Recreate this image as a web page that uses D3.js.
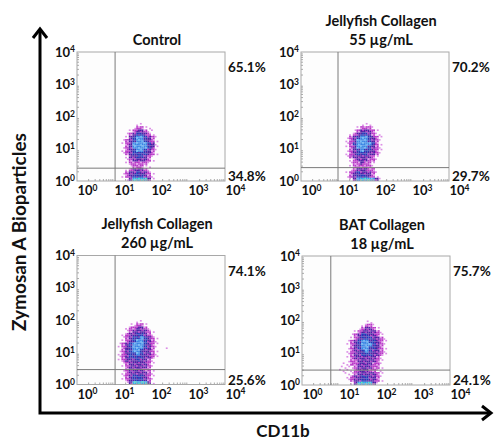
<!DOCTYPE html>
<html>
<meta charset="utf-8">
<title>Zymosan A Bioparticles vs CD11b</title>
<style>
  body { margin: 0; background: #fff; }
  svg text { font-family: Lato, "Open Sans", sans-serif; font-weight: bold; fill: #111; }
</style>
<body>
<div id="chart"></div>
<script src="https://cdn.jsdelivr.net/npm/d3@7"></script>
<script>
// panel titles, quadrant percentages and gate positions (data units)
var titles = [["Control"], ["Jellyfish Collagen", "55 µg/mL"], ["Jellyfish Collagen", "260 µg/mL"], ["BAT Collagen", "18 µg/mL"]];
var upperPct = ["65.1%", "70.2%", "74.1%", "75.7%"];
var lowerPct = ["34.8%", "29.7%", "25.6%", "24.1%"];
var gateX = [10.7, 10, 10.7, 6];
var gateY = [2.5, 2.6, 2.9, 2.9];
var tickValues = [1, 10, 100, 1000, 10000];

// density maps: 0.1 decade bins,
// columns start at log10 = 1.0, rows start at log10 = 1.9 (top) and go down to 0.0
var binStart = 1.0, binRowTop = 1.9, binStep = 0.1;
var densControl = [
  "000000000000000",
  "000000000000000",
  "000000110000000",
  "000001221100000",
  "000012332110000",
  "000123443210000",
  "000134554321000",
  "001234554321000",
  "001235555431000",
  "001235555431000",
  "001234554321000",
  "001234444321000",
  "000133443210000",
  "000123333210000",
  "000122222100000",
  "000012221100000",
  "000123332100000",
  "001233433210000",
  "001234443210000",
  "000136666310000"
];
var dens55 = [
  "000000000000000",
  "000000000000000",
  "000000111000000",
  "000001222100000",
  "000012333210000",
  "000123443211000",
  "001234554321000",
  "001235554321000",
  "001245555421000",
  "001235554321000",
  "001234544321000",
  "001234443321000",
  "001233333210000",
  "000123332210000",
  "000122322100000",
  "000122222100000",
  "000123332200000",
  "001234333210000",
  "001234443210000",
  "000135666531000"
];
var dens260 = [
  "000000110000000",
  "000011221000000",
  "000122332100000",
  "000123333210000",
  "001233443210000",
  "001234454321000",
  "001234554321000",
  "012345554321000",
  "012345554321001",
  "012345543321000",
  "012344543321000",
  "012344443321000",
  "012333433210000",
  "001233333210000",
  "001233333210000",
  "001233332210000",
  "001233333210000",
  "001234443210000",
  "001234443210000",
  "000136666310000"
];
var densBAT = [
  "000000011000000",
  "000000122100000",
  "000001233210000",
  "000012333321000",
  "000123443321000",
  "000123444332100",
  "001234554432100",
  "001234555432100",
  "001234554432100",
  "001233454332100",
  "001233444332100",
  "001233333321000",
  "001223333321000",
  "011223333221000",
  "111123333221000",
  "111123332211000",
  "011123333321000",
  "001233443321000",
  "001233443321000",
  "000136666310000"
];
var densities = [densControl, dens55, dens260, densBAT];

// main colour and speckle colour for each density level
var levelColors = [null, "#dc8ee6", "#b838c8", "#4f1ea6", "#2438b8", "#3a86e4", "#38a8e8"];
var speckColors = [null, null, "#e29be9", "#b030c4", "#5a22a8", "#66b4f4", "#40e0c0"];

var svg = d3.select("#chart").append("svg")
  .attr("width", 494).attr("height", 441);

var W = 148, H = 129;
var panelX = [77, 301, 77, 302];
var panelY = [52, 52, 255.5, 256];

var minorTicks = [];
for (var k = 0; k < 4; k++) for (var m = 2; m < 10; m++) minorTicks.push(m * Math.pow(10, k));

function supLabel(sel) {
  sel.text(null);
  sel.append("tspan").text("10");
  sel.append("tspan").attr("dy", "-0.5em").style("font-size", "8.5px")
    .text(function (d) { return Math.round(Math.log10(d)); });
}

densities.forEach(function (dens, i) {
  var g = svg.append("g").attr("transform", "translate(" + panelX[i] + "," + panelY[i] + ")");
  var x = d3.scaleLog().domain([1, 1e4]).range([0, W]);
  var y = d3.scaleLog().domain([1, 1e4]).range([H, 0]);

  g.append("rect").attr("width", W).attr("height", H).attr("fill", "#fdfdfd");

  // each bin split in 2x2 sub cells for a speckled look
  var cells = [];
  dens.forEach(function (row, r) {
    row.split("").forEach(function (ch, c) {
      var v = +ch;
      if (v == 0) return;
      for (var q = 0; q < 4; q++) {
        var odd = q == (r * 3 + c * 2 + i) % 4;
        if (v == 1 && !odd) continue;
        cells.push({ r: r, c: c, q: q, fill: (odd && v > 1) ? speckColors[v] : levelColors[v] });
      }
    });
  });

  g.selectAll("rect.cell").data(cells).join("rect")
    .attr("class", "cell")
    .each(function (d) {
      var x0 = x(Math.pow(10, binStart + d.c * binStep)),
          x1 = x(Math.pow(10, binStart + (d.c + 1) * binStep)),
          y0 = y(Math.pow(10, binRowTop - d.r * binStep + binStep)),
          y1 = y(Math.pow(10, binRowTop - d.r * binStep));
      var hw = (x1 - x0) / 2, hh = (y1 - y0) / 2;
      d3.select(this)
        .attr("x", x0 + (d.q % 2) * hw)
        .attr("y", y0 + Math.floor(d.q / 2) * hh)
        .attr("width", hw)
        .attr("height", hh)
        .attr("fill", d.fill);
    });

  // minor ticks
  var mb = g.append("g").attr("transform", "translate(0," + H + ")")
    .call(d3.axisBottom(x).tickValues(minorTicks).tickSize(-2).tickFormat(""));
  var ml = g.append("g")
    .call(d3.axisLeft(y).tickValues(minorTicks).tickSize(-2).tickFormat(""));
  [mb, ml].forEach(function (a) {
    a.select(".domain").remove();
    a.selectAll("line").attr("stroke", "#aaa");
  });

  g.append("rect").attr("width", W).attr("height", H)
    .attr("fill", "none").attr("stroke", "#a8a8a8");

  // gates
  g.append("line").attr("x1", x(gateX[i])).attr("x2", x(gateX[i]))
    .attr("y1", 0).attr("y2", H).attr("stroke", "#7a7a7a");
  g.append("line").attr("x1", 0).attr("x2", W)
    .attr("y1", y(gateY[i])).attr("y2", y(gateY[i])).attr("stroke", "#7a7a7a");

  // labelled axes
  var ax = g.append("g").attr("transform", "translate(0," + H + ")")
    .call(d3.axisBottom(x).tickValues(tickValues).tickSize(0).tickPadding(5));
  ax.select(".domain").remove();
  ax.selectAll("text").attr("text-anchor", "start").style("font-size", "13px").call(supLabel);

  var ay = g.append("g")
    .call(d3.axisLeft(y).tickValues(tickValues).tickSize(0).tickPadding(2));
  ay.select(".domain").remove();
  ay.selectAll("text").style("font-size", "13px").call(supLabel);

  // title
  var t = titles[i];
  t.forEach(function (line, j) {
    g.append("text")
      .attr("x", W / 2 + 6)
      .attr("y", -13 - (t.length - 1 - j) * 19)
      .attr("text-anchor", "middle").attr("dominant-baseline", "central")
      .style("font-size", "14.5px")
      .text(line);
  });

  g.append("text").attr("x", W + 3).attr("y", 15)
    .attr("dominant-baseline", "central").style("font-size", "13.5px").text(upperPct[i]);
  g.append("text").attr("x", W + 3).attr("y", H - 5)
    .attr("dominant-baseline", "central").style("font-size", "13.5px").text(lowerPct[i]);
});

// outer axes with arrows
svg.append("path").attr("d", "M40,31 V413 H489")
  .attr("fill", "none").attr("stroke", "#000").attr("stroke-width", 3);
svg.append("path").attr("d", "M33,38 L40,29 L47,38")
  .attr("fill", "none").attr("stroke", "#000").attr("stroke-width", 3);
svg.append("path").attr("d", "M482,406 L491,413 L482,420")
  .attr("fill", "none").attr("stroke", "#000").attr("stroke-width", 3);

svg.append("text")
  .attr("transform", "translate(18,232) rotate(-90)")
  .attr("text-anchor", "middle").attr("dominant-baseline", "central")
  .style("font-size", "19px")
  .text("Zymosan A Bioparticles");

svg.append("text")
  .attr("x", 283).attr("y", 430)
  .attr("text-anchor", "middle").attr("dominant-baseline", "central")
  .style("font-size", "17px")
  .text("CD11b");
</script>
</body>
</html>
